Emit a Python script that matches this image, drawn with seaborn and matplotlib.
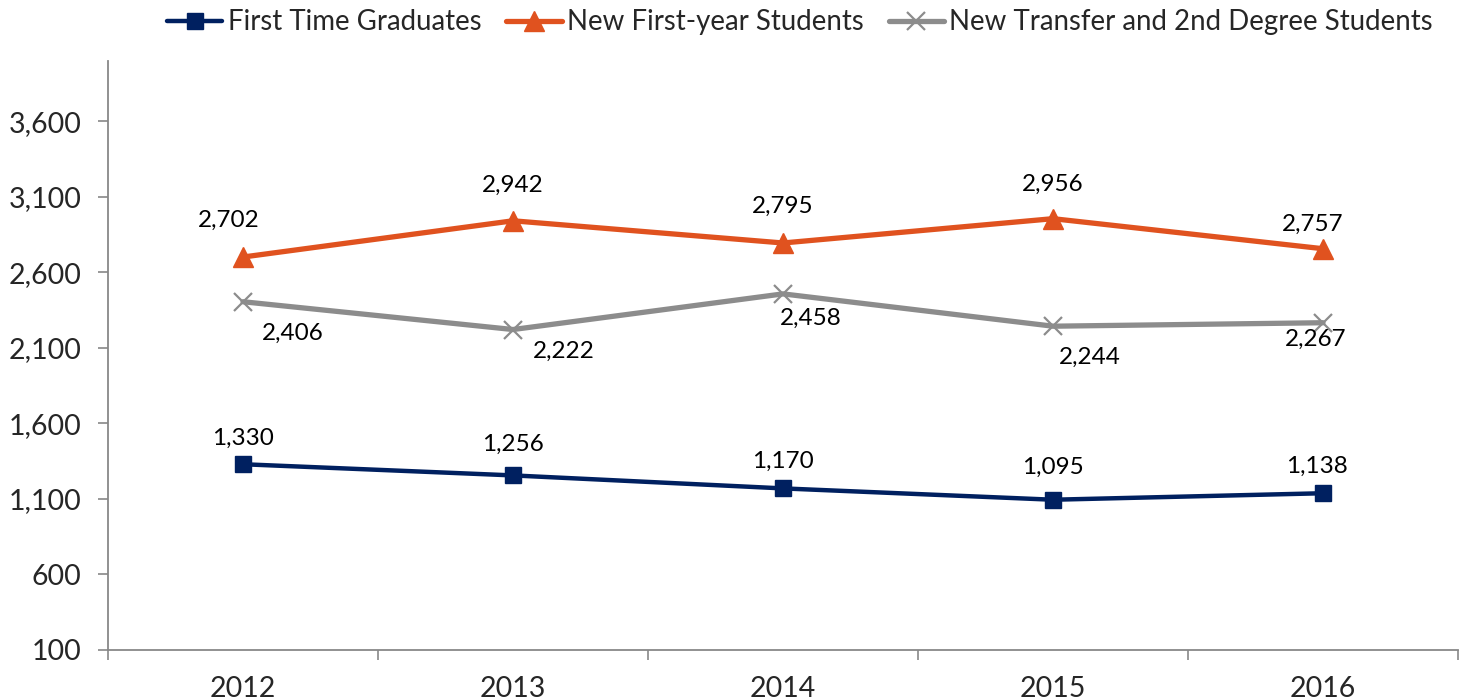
import matplotlib
matplotlib.use("Agg")
import matplotlib.pyplot as plt
import seaborn as sns
import pandas as pd

years = ["2012", "2013", "2014", "2015", "2016"]
series_names = ["First Time Graduates", "New First-year Students",
                "New Transfer and 2nd Degree Students"]
graduates = [1330, 1256, 1170, 1095, 1138]
first_year = [2702, 2942, 2795, 2956, 2757]
transfer = [2406, 2222, 2458, 2244, 2267]
y_ticks = [100, 600, 1100, 1600, 2100, 2600, 3100, 3600]

sns.set_theme(style="white")
plt.rcParams["font.family"] = ["Lato", "DejaVu Sans"]

colors = ["#002060", "#E0521F", "#8C8C8C"]
markers = ["s", "^", "x"]
msizes = [11, 15, 13]
lwidths = [3.2, 3.8, 3.8]

# label offsets in pixels (dx, dy) per series and year
label_offsets = [
    [(0, 26), (0, 31), (0, 27), (0, 32), (-6, 27)],
    [(-14, 37), (0, 35), (0, 37), (0, 34), (-10, 24)],
    [(50, -32), (51, -22), (28, -24), (37, -31), (-7, -17)],
]

values = [graduates, first_year, transfer]
rows = []
for name, vals in zip(series_names, values):
    for i, v in enumerate(vals):
        rows.append({"series": name, "x": i, "value": v})
df = pd.DataFrame(rows)

fig = plt.figure(figsize=(14.6, 7.0), dpi=100)
ax = fig.add_axes([108 / 1460, 50 / 700, 1350 / 1460, 589 / 700])

for k, name in enumerate(series_names):
    sub = df[df["series"] == name]
    sns.lineplot(data=sub, x="x", y="value", ax=ax, color=colors[k],
                 linewidth=lwidths[k], marker=markers[k], markersize=msizes[k],
                 markeredgecolor=colors[k], markeredgewidth=1.6 if k == 2 else 1,
                 label=name, sort=False)
    for i, v in enumerate(values[k]):
        dx, dy = label_offsets[k][i]
        ax.annotate(f"{v:,}", (i, v), xytext=(dx, dy), textcoords="offset pixels",
                    ha="center", va="center", fontsize=17.5, color="black")

ax.set_xlim(-0.5, 4.5)
ax.set_ylim(100, 4000)
ax.set_yticks(y_ticks)
ax.set_yticklabels([f"{t:,}" for t in y_ticks], fontsize=20.5)
ax.set_xticks(range(len(years)))
ax.set_xticklabels(years, fontsize=20.5)
ax.set_xticks([i - 0.5 for i in range(len(years) + 1)], minor=True)
ax.tick_params(axis="x", which="major", length=0, pad=19)
ax.tick_params(axis="x", which="minor", length=7, width=1.2, color="#888888",
               direction="out", bottom=True)
ax.tick_params(axis="y", which="major", length=7, width=1.2, color="#888888",
               direction="out", left=True, pad=12)
ax.set_xlabel("")
ax.set_ylabel("")
for side in ["top", "right"]:
    ax.spines[side].set_visible(False)
for side in ["left", "bottom"]:
    ax.spines[side].set_color("#888888")
    ax.spines[side].set_linewidth(1.3)

handles, labels = ax.get_legend_handles_labels()
ax.legend(handles, labels, loc="upper center", bbox_to_anchor=(0.5126, 1.13),
          ncol=3, frameon=False, fontsize=19.9, handlelength=2.0,
          handletextpad=0.2, columnspacing=0.9)

fig.savefig("out.png", dpi=100)
